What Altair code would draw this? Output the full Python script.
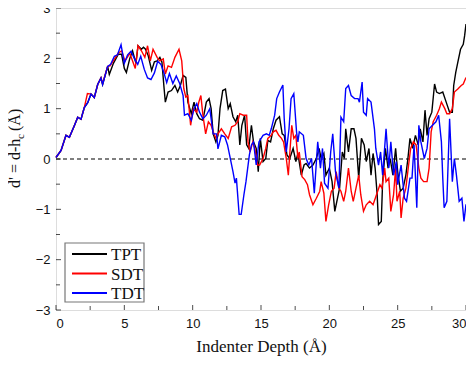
import altair as alt
import pandas as pd

# ---- data ----
series_names = ["TPT", "SDT", "TDT"]
series_colors = ["#000000", "#ff0000", "#0000ff"]

tpt_x = [0, 0.37, 0.73, 0.98, 1.34, 1.59, 1.83, 2.07, 2.32, 2.56, 2.8, 3.05, 3.29, 3.41, 3.78,
         3.9, 4.2, 4.55, 4.8, 5.0, 5.15, 5.4, 5.6, 5.85, 6.0, 6.25, 6.4, 6.55, 6.75, 7.0, 7.2, 7.4, 7.6, 7.75,
         7.9, 8.0, 8.2, 8.45, 8.7, 8.9, 9.1, 9.3, 9.5, 9.65, 9.9, 10.1, 10.3, 10.5, 10.75, 11.0, 11.2, 11.35,
         11.5, 11.7, 11.85, 12.0, 12.2, 12.4, 12.6, 12.75, 12.95, 13.15, 13.3, 13.45, 13.6, 13.8, 13.95, 14.1,
         14.3, 14.45, 14.65, 14.8, 14.95, 15.15, 15.35, 15.5, 15.7, 15.9, 16.1, 16.35, 16.55, 16.7, 16.9, 17.1,
         17.35, 17.55, 17.7, 17.95, 18.15, 18.3, 18.55, 18.8, 19.05, 19.25, 19.4, 19.6, 19.75, 20.0, 20.2, 20.4,
         20.55, 20.75, 20.95, 21.1, 21.2, 21.4, 21.6, 21.8, 21.95, 22.15, 22.35, 22.55, 22.7, 22.9, 23.05, 23.2,
         23.35, 23.5, 23.6, 23.8, 23.9, 24.1, 24.3, 24.45, 24.65, 24.85, 25.0, 25.2, 25.4, 25.6, 25.75, 25.9,
         26.1, 26.3, 26.5, 26.65, 26.85, 27.0, 27.15, 27.3, 27.5, 27.7, 27.85, 28.05, 28.3, 28.55, 28.8, 29.0,
         29.1, 29.25, 29.4, 29.6, 29.8, 29.9, 30.0]
tpt_y = [0.03, 0.17, 0.47, 0.43, 0.66, 0.83, 0.79, 1.02, 1.12, 1.29, 1.22, 1.48, 1.61, 1.48, 1.84,
         1.68, 1.9, 2.08, 2.08, 1.8, 1.72, 2.0, 2.15, 1.9, 2.25, 2.18, 2.22, 2.18, 2.05, 1.76, 1.93, 1.95, 2.02, 1.93,
         1.43, 1.13, 1.33, 1.36, 1.46, 1.33, 1.46, 1.66, 1.62, 1.13, 0.9, 1.13, 0.9, 0.8, 0.77, 1.13, 1.2, 1.0,
         0.5, 0.34, 0.47, 1.0, 1.36, 1.39, 1.0, 1.1, 0.84, 0.74, 0.87, 0.28, 0.67, 0.87, 0.28, 0.21,
         0.67, 0.34, 0.21, -0.25, 0.41, -0.05, 0.01, 0.37, 0.34, 0.6, 0.77, 0.84, 0.5, 0.47, 0.08, 0.01,
         0.21, -0.05, 0.11, -0.32, -0.12, -0.09, -0.18, -0.12, 0.01, 0.21, 0.01, 0.11, -0.32, -0.18, -0.45, -1.04,
         -0.84, -0.58, 0.14, 0.01, 0.6, 0.14, 0.6, 0.6, 0.41, -0.38, 0.41, 0.28, -0.05, 0.21, -0.32, 0.11,
         -0.18, -0.71, -1.3, -1.24, -0.45, 0.21, -0.18, 0.01, -0.32, 0.21, -0.25, -0.64, -0.58, -0.32, 0.01, 0.41,
         0.21, 0.47, 0.28, 0.6, 0.34, 0.97, 0.47, 0.8, 0.93, 1.49, 1.33, 1.3, 1.33, 1.13, 0.93, 0.93,
         1.46, 1.72, 1.92, 2.18, 2.28, 2.45, 2.68]

sdt_x = [0, 0.37, 0.73, 0.98, 1.34, 1.59, 1.83, 2.07, 2.3, 2.56, 2.8, 3.05, 3.29, 3.41, 3.78,
         3.95, 4.55, 4.8, 5.05, 5.4, 5.8, 6.0, 6.25, 6.5, 6.7, 6.9, 7.1, 7.4, 7.6, 7.85, 8.0, 8.2, 8.45, 8.7,
         9.0, 9.2, 9.35, 9.5, 9.65, 9.85, 10.05, 10.3, 10.45, 10.6, 10.75, 10.95, 11.15, 11.35, 11.5, 11.7,
         11.85, 12.1, 12.35, 12.6, 12.85, 13.1, 13.3, 13.45, 13.7, 13.95, 14.05, 14.2, 14.4, 14.55, 14.75, 14.9,
         15.15, 15.35, 15.5, 15.75, 15.9, 16.1, 16.3, 16.5, 16.65, 16.85, 17.0, 17.1, 17.25, 17.4, 17.55, 17.7,
         17.8, 18.0, 18.2, 18.4, 18.55, 18.8, 19.05, 19.3, 19.4, 19.6, 19.75, 19.95, 20.15, 20.35, 20.5, 20.7,
         20.85, 21.05, 21.2, 21.4, 21.6, 21.75, 21.95, 22.15, 22.3, 22.5, 22.7, 22.95, 23.2, 23.45, 23.7, 23.85,
         24.05, 24.15, 24.35, 24.5, 24.7, 24.85, 24.95, 25.15, 25.25, 25.4, 25.6, 25.8, 25.95, 26.15, 26.35,
         26.55, 26.7, 26.9, 27.15, 27.3, 27.45, 27.6, 27.85, 28.05, 28.2, 28.45, 28.6, 28.8, 29.0, 29.15, 29.4,
         29.65, 29.8, 30.0]
sdt_y = [0.03, 0.17, 0.47, 0.43, 0.66, 0.83, 0.79, 1.02, 1.3, 1.29, 1.22, 1.48, 1.61, 1.5, 1.84,
         1.85, 2.1, 2.15, 1.95, 2.1, 1.8, 2.25, 2.15, 2.02, 2.25, 1.95, 2.18, 2.02, 1.95, 1.99, 1.69, 1.85, 1.82, 2.02,
         2.18, 1.95, 1.4, 1.23, 1.26, 0.67, 1.0, 0.93, 1.13, 1.26, 0.87, 0.5, 0.74, 0.67, 0.54, 0.41,
         0.5, 0.6, 0.5, 0.41, 0.64, 0.67, 0.74, 0.9, 0.87, 0.87, 0.34, 0.14, 0.34, 0.21, -0.12, -0.12,
         0.01, 0.21, 0.41, 0.47, 0.54, 0.57, 0.47, 0.41, 0.34, 0.01, -0.32, 0.08, 0.67, 0.41, 0.47, 0.01,
         0.14, -0.35, -0.41, -0.51, -0.71, -0.91, -0.78, -0.64, -0.45, -0.68, -1.24, -0.91, -0.64, -0.58, -0.25, -0.58,
         -0.64, -0.84, -0.64, -0.18, -0.64, -0.84, -0.58, -0.32, -0.71, -1.04, -0.91, -0.84, -0.91, -0.71, -0.51, -0.58,
         -0.18, -0.45, -0.38, -1.04, -0.71, -0.18, -0.84, -0.64, -1.17, -0.78, -0.58, -0.12, 0.21, 0.34, 0.28,
         -0.18, -0.38, -0.45, -0.45, -0.18, 0.54, 0.74, 0.87, 1.0, 1.13, 1.0, 0.9, 0.9, 1.0, 1.33, 1.39,
         1.46, 1.49, 1.62]

tdt_x = [0, 0.37, 0.73, 0.98, 1.34, 1.59, 1.83, 2.07, 2.32, 2.56, 2.8, 3.05, 3.29, 3.41, 3.78,
         4.0, 4.27, 4.5, 4.76, 5.0, 5.24, 5.49, 5.73, 5.98, 6.2, 6.46, 6.7, 6.95, 7.2, 7.44, 7.68, 7.9, 8.1,
         8.3, 8.55, 8.8, 9.05, 9.3, 9.4, 9.65, 9.9, 10.1, 10.3, 10.5, 10.75, 11.0, 11.25, 11.5, 11.75, 11.85,
         12.1, 12.35, 12.55, 12.7, 12.95, 13.1, 13.2, 13.4, 13.55, 13.75, 13.9, 14.15, 14.3, 14.45, 14.65, 14.85,
         15.15, 15.4, 15.6, 15.75, 16.0, 16.15, 16.35, 16.6, 16.7, 16.85, 17.05, 17.2, 17.4, 17.6, 17.7, 17.8,
         18.1, 18.3, 18.5, 18.7, 18.9, 19.15, 19.35, 19.5, 19.65, 19.9, 20.1, 20.25, 20.45, 20.7, 20.85, 21.05,
         21.2, 21.4, 21.6, 21.85, 22.1, 22.2, 22.4, 22.5, 22.7, 22.8, 23.05, 23.3, 23.4, 23.6, 23.75, 23.9,
         24.15, 24.35, 24.5, 24.7, 24.9, 25.0, 25.25, 25.5, 25.65, 25.9, 26.05, 26.2, 26.4, 26.55, 26.7, 26.95,
         27.15, 27.3, 27.55, 27.8, 28.0, 28.2, 28.3, 28.4, 28.6, 28.8, 29.0, 29.15, 29.3, 29.5, 29.7, 29.85, 30.0]
tdt_y = [0.03, 0.17, 0.47, 0.43, 0.66, 0.83, 0.79, 1.02, 1.12, 1.29, 1.22, 1.48, 1.61, 1.48, 1.84,
         1.88, 2.04, 2.07, 2.27, 1.9, 2.07, 2.14, 2.0, 1.88, 2.04, 1.78, 1.61, 1.58, 1.71, 1.94, 1.88, 1.71, 1.52,
         1.7, 1.5, 1.65, 1.5, 1.26, 0.87, 0.9, 0.77, 1.0, 1.1, 0.93, 0.8, 0.87, 1.0, 0.5, 0.5, 0.2,
         0.47, 0.44, 0.28, 0.08, -0.25, -0.48, -0.38, -1.1, -1.1, -0.71, -0.45, 0.08, 0.28, 0.34, -0.12, 0.34,
         0.47, 0.5, 0.47, 0.6, 0.87, 1.2, 1.33, 1.47, 0.8, 0.14, 0.6, 1.2, 1.3, 0.54, 0.34, 0.54,
         0.47, 0.01, -0.12, 0.01, -0.68, 0.34, -0.18, 0.21, -0.48, -0.58, 0.14, 0.5, -0.25, -0.58, 0.83, 0.74,
         1.4, 1.46, 1.26, 1.2, 1.2, 1.13, 1.53, 0.93, 0.87, 1.2, 1.13, 0.6, 0.21, -0.12, 0.14, -0.32,
         0.6, -0.18, 0.34, -0.32, -0.05, -0.51, -0.12, -0.78, -0.84, -0.38, -0.38, 0.28, -0.97, 0.67, 0.34, 0.01,
         0.21, 0.6, 0.67, 0.74, 0.87, 0.34, -0.38, -0.97, -0.84, 0.8, -0.45, 0.01, -0.32, -0.84, -0.78, -1.24, -0.9]

x_major = [0, 5, 10, 15, 20, 25, 30]
x_minor = [2.5, 7.5, 12.5, 17.5, 22.5, 27.5]
y_major = [-3, -2, -1, 0, 1, 2, 3]
y_minor = [-2.5, -1.5, -0.5, 0.5, 1.5, 2.5]
zero_line = [0]

W, H = 410, 302

rows = []
for name, xs, ys in [("TPT", tpt_x, tpt_y), ("SDT", sdt_x, sdt_y), ("TDT", tdt_x, tdt_y)]:
    for i, (a, b) in enumerate(zip(xs, ys)):
        rows.append({"series": name, "depth": a, "d": b, "idx": i})
df = pd.DataFrame(rows)

xscale = alt.Scale(domain=[0, 30], nice=False, zero=False)
yscale = alt.Scale(domain=[-3, 3], nice=False, zero=False)
cscale = alt.Scale(domain=series_names, range=series_colors)

zero = alt.Chart(pd.DataFrame({"z": zero_line})).mark_rule(
    color="black", strokeDash=[4, 3], strokeWidth=1.2
).encode(y=alt.Y("z:Q", scale=yscale, axis=None))

lines = alt.Chart(df).mark_line(strokeWidth=1.4).encode(
    x=alt.X("depth:Q", scale=xscale,
            axis=alt.Axis(values=x_major, title="Indenter Depth (Å)", labelFont="Liberation Sans",
                          labelFontSize=13, labelColor="#111", labelPadding=7, titleFont="Liberation Serif",
                          titleFontSize=17, titleFontWeight="normal", titleColor="#111", titlePadding=8,
                          ticks=False, domain=False, grid=False)),
    y=alt.Y("d:Q", scale=yscale,
            axis=alt.Axis(values=y_major, title=None, labelFont="Liberation Sans", labelFontSize=13,
                          labelColor="#111", labelPadding=6, ticks=False, domain=False, grid=False)),
    color=alt.Color("series:N", scale=cscale, sort=series_names, legend=None),
    order=alt.Order("idx:Q"),
)

def xticks(vals, length):
    return alt.Chart(pd.DataFrame({"v": vals})).mark_tick(
        color="black", thickness=1, size=length, orient="vertical"
    ).encode(x=alt.X("v:Q", scale=xscale, axis=None), y=alt.value(H - length / 2))

def yticks(vals, length):
    return alt.Chart(pd.DataFrame({"v": vals})).mark_tick(
        color="black", thickness=1, size=length, orient="horizontal"
    ).encode(y=alt.Y("v:Q", scale=yscale, axis=None), x=alt.value(length / 2))

ytitle_main = alt.Chart(pd.DataFrame({"t": ["d' = d-h"]})).mark_text(
    angle=270, align="left", baseline="alphabetic", font="Liberation Serif", fontSize=16, color="#111"
).encode(text="t:N", x=alt.value(-36), y=alt.value(180))
ytitle_sub = alt.Chart(pd.DataFrame({"t": ["c"]})).mark_text(
    angle=270, align="left", baseline="alphabetic", font="Liberation Serif", fontSize=11, color="#111"
).encode(text="t:N", x=alt.value(-32), y=alt.value(131))
ytitle_end = alt.Chart(pd.DataFrame({"t": ["(Å)"]})).mark_text(
    angle=270, align="left", baseline="alphabetic", font="Liberation Serif", fontSize=16, color="#111"
).encode(text="t:N", x=alt.value(-36), y=alt.value(123))

# ---- legend box drawn by hand ----
LX0, LX1, LY0, LY1 = 9, 88, 235, 294
legend_box = alt.Chart(pd.DataFrame({"k": [0]})).mark_rect(
    fill="white", stroke="#777", strokeWidth=1.2
).encode(x=alt.value(LX0), x2=alt.value(LX1), y=alt.value(LY0), y2=alt.value(LY1))

legend_parts = [legend_box]
row_y = [246, 265.5, 285]
for name, col, ry in zip(series_names, series_colors, row_y):
    legend_parts.append(
        alt.Chart(pd.DataFrame({"s": [name]})).mark_rule(strokeWidth=2.2).encode(
            x=alt.value(16), x2=alt.value(51), y=alt.value(ry),
            color=alt.Color("s:N", scale=cscale, legend=None))
    )
    legend_parts.append(
        alt.Chart(pd.DataFrame({"s": [name]})).mark_text(
            align="left", baseline="middle", font="Liberation Serif", fontSize=17, color="#111", dy=1
        ).encode(text="s:N", x=alt.value(55), y=alt.value(ry))
    )

chart = alt.layer(
    zero, lines, xticks(x_major, 5), xticks(x_minor, 4), yticks(y_major, 5), yticks(y_minor, 4),
    ytitle_main, ytitle_sub, ytitle_end, *legend_parts
).resolve_axis(x="independent", y="independent").properties(
    width=W, height=H, autosize="none",
    padding={"left": 48, "top": 0, "right": 0, "bottom": 46},
).configure_view(stroke="#111", strokeWidth=1.2).configure(background="white")

chart.save("out.html", embed_options={"renderer": "svg", "actions": False})
